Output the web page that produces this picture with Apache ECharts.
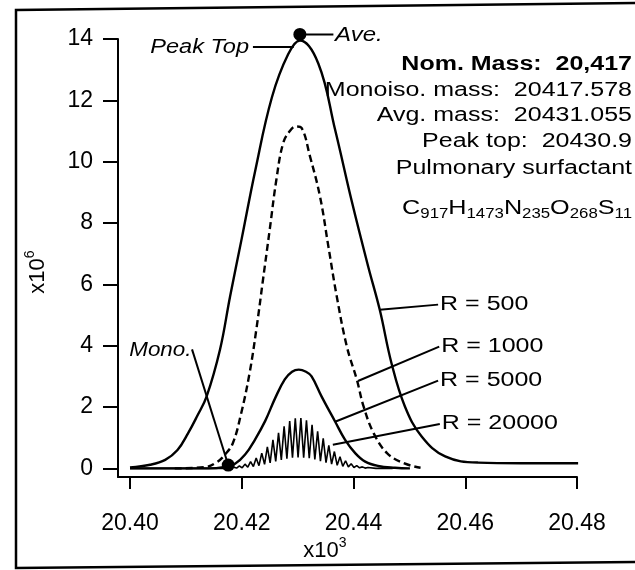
<!DOCTYPE html>
<html><head><meta charset="utf-8">
<script src="https://cdn.jsdelivr.net/npm/echarts@6/dist/echarts.min.js"></script>
<style>html,body{margin:0;padding:0;background:#fff}#c{width:635px;height:570px}</style>
</head><body><div id="c"></div>
<script>
// ---- tick labels ----
const xTicks = [20.40, 20.42, 20.44, 20.46, 20.48];
const yTicks = [0, 2, 4, 6, 8, 10, 12, 14];

// ---- R = 500 (solid) ----
const r500Mass = [20.4000, 20.4036, 20.4063, 20.4085, 20.4104, 20.4120, 20.4137, 20.4161, 20.4179, 20.4200, 20.4224, 20.4254, 20.4283, 20.4304, 20.4337, 20.4367, 20.4397, 20.4426, 20.4447, 20.4468, 20.4492, 20.4522, 20.4564, 20.4623, 20.4700, 20.4802];
const r500Int  = [0.03, 0.12, 0.28, 0.60, 1.15, 1.70, 2.34, 3.87, 5.60, 7.50, 9.70, 12.10, 13.50, 13.95, 13.20, 11.05, 8.70, 6.60, 5.17, 3.43, 2.02, 1.04, 0.39, 0.19, 0.17, 0.17];

// ---- R = 1000 (dashed) ----
const r1000Mass = [20.4080, 20.4134, 20.4155, 20.4170, 20.4184, 20.4199, 20.4214, 20.4226, 20.4238, 20.4250, 20.4262, 20.4274, 20.4286, 20.4297, 20.4307, 20.4322, 20.4340, 20.4355, 20.4370, 20.4388, 20.4406, 20.4418, 20.4436, 20.4460, 20.4490, 20.4520];
const r1000Int  = [0, 0.04, 0.20, 0.45, 0.82, 1.80, 3.11, 4.52, 6.15, 7.78, 9.42, 10.60, 11.00, 11.15, 11.10, 10.18, 8.87, 7.24, 5.61, 3.98, 2.89, 2.02, 1.15, 0.50, 0.17, 0.02];

// ---- R = 5000 ----
const r5000Mass = [20.4000, 20.4140, 20.4170, 20.4188, 20.4206, 20.4224, 20.4242, 20.4260, 20.4277, 20.4290, 20.4302, 20.4315, 20.4325, 20.4343, 20.4367, 20.4385, 20.4403, 20.4421, 20.4444, 20.4474, 20.4501];
const r5000Int  = [0, 0, 0.05, 0.15, 0.45, 0.95, 1.55, 2.30, 2.90, 3.15, 3.22, 3.15, 3.00, 2.34, 1.53, 0.93, 0.50, 0.22, 0.08, 0.02, 0];

// ---- R = 20000 (resolved isotope peaks and valleys) ----
const r20000Mass = [20.4000, 20.4170,
  20.41858, 20.41908, 20.41958, 20.42008, 20.42058, 20.42108, 20.42158, 20.42208,
  20.42258, 20.42308, 20.42358, 20.42408, 20.42458, 20.42508, 20.42558, 20.42608,
  20.42658, 20.42708, 20.42758, 20.42808, 20.42858, 20.42908, 20.42958, 20.43008,
  20.43058, 20.43108, 20.43158, 20.43208, 20.43258, 20.43308, 20.43358, 20.43408,
  20.43458, 20.43508, 20.43558, 20.43608, 20.43658, 20.43708, 20.43758, 20.43808,
  20.43858, 20.43908, 20.43958, 20.44008, 20.44058, 20.44108, 20.44158, 20.44208,
  20.44258, 20.4440, 20.4470];
const r20000Int = [0, 0,
  0.04, 0.01, 0.08, 0.02, 0.14, 0.04, 0.22, 0.06,
  0.34, 0.09, 0.50, 0.13, 0.70, 0.18, 0.93, 0.23,
  1.16, 0.28, 1.37, 0.32, 1.54, 0.35, 1.63, 0.36,
  1.64, 0.35, 1.57, 0.33, 1.42, 0.29, 1.21, 0.24,
  0.98, 0.19, 0.75, 0.14, 0.55, 0.10, 0.38, 0.07,
  0.25, 0.05, 0.15, 0.03, 0.09, 0.02, 0.05, 0.01,
  0.03, 0, 0];

// ---- marked points: Mono. and Peak Top / Ave. ----
const markMass = [20.41758, 20.4304];
const markInt  = [0.11, 14.15];

// ---- annotation texts ----
const rLabels = ['R = 500', 'R = 1000', 'R = 5000', 'R = 20000'];
const rLabelPos = [[20.4555, 5.34], [20.4557, 3.97], [20.4555, 2.86], [20.4558, 1.45]];
const rPointerFrom = [[20.4447, 5.17], [20.4408, 2.85], [20.4367, 1.52], [20.4363, 0.77]];
const infoLines = ['Nom. Mass:  20,417', 'Monoiso. mass:  20417.578', 'Avg. mass:  20431.055', 'Peak top:  20430.9', 'Pulmonary surfactant'];
const formulaParts = [['C', '917'], ['H', '1473'], ['N', '235'], ['O', '268'], ['S', '11']];

const FONT = '"Liberation Sans", Arial, Helvetica, sans-serif';
const zip = (a, b) => a.map((v, i) => [v, b[i]]);

const chart = echarts.init(document.getElementById('c'), null, {renderer: 'canvas'});
const lineBase = {type: 'line', showSymbol: false, symbol: 'none', silent: true};
chart.setOption({
  animation: false,
  backgroundColor: '#ffffff',
  grid: {left: 118, right: 58, top: 39, bottom: 93},
  xAxis: {
    type: 'value', min: 20.39785, max: 20.48,
    axisLine: {show: true, onZero: false, lineStyle: {color: '#000', width: 2}},
    axisTick: {show: true, customValues: xTicks, length: 12, lineStyle: {color: '#000', width: 2}},
    axisLabel: {customValues: xTicks, formatter: v => Number(v).toFixed(2), color: '#000', fontSize: 23, fontFamily: FONT, margin: 35},
    splitLine: {show: false}
  },
  yAxis: {
    type: 'value', min: -0.28, max: 14,
    axisLine: {show: true, onZero: false, lineStyle: {color: '#000', width: 2}},
    axisTick: {show: true, customValues: yTicks, length: 15, lineStyle: {color: '#000', width: 2}},
    axisLabel: {customValues: yTicks, color: '#000', fontSize: 23, fontFamily: FONT, margin: 25},
    splitLine: {show: false}
  },
  series: [
    Object.assign({}, lineBase, {name: 'R = 500', data: zip(r500Mass, r500Int), smooth: 0.4, lineStyle: {color: '#000', width: 2.4}}),
    Object.assign({}, lineBase, {name: 'R = 1000', data: zip(r1000Mass, r1000Int), smooth: 0.4, lineStyle: {color: '#000', width: 2.4, type: [7, 4]}}),
    Object.assign({}, lineBase, {name: 'R = 5000', data: zip(r5000Mass, r5000Int), smooth: 0.4, lineStyle: {color: '#000', width: 2.4}}),
    Object.assign({}, lineBase, {name: 'R = 20000', data: zip(r20000Mass, r20000Int), smooth: false, lineStyle: {color: '#000', width: 1.6}}),
    {type: 'scatter', data: zip(markMass, markInt), symbolSize: 13, clip: false, itemStyle: {color: '#000', opacity: 1}, z: 5, silent: true}
  ]
});

const P = p => chart.convertToPixel({gridIndex: 0}, p);
function seg(a, b, w) {
  return {type: 'line', z: 10, shape: {x1: a[0], y1: a[1], x2: b[0], y2: b[1]}, style: {stroke: '#000', lineWidth: w || 2}};
}
function txt(x, y, text, o) {
  o = o || {};
  return {
    type: 'text', z: 10, x: x, y: y, scaleX: o.sx || 1, rotation: o.rot || 0,
    style: {
      text: text, fill: '#000',
      fontSize: o.size || 20, fontFamily: FONT, fontWeight: o.weight || 'normal', fontStyle: o.style || 'normal',
      align: o.align || 'left', verticalAlign: 'middle', textAlign: o.align || 'left', textVerticalAlign: 'middle',
      rich: o.rich
    }
  };
}
const g = [];
// outer frame (scan border)
g.push({type: 'polyline', z: 10, shape: {points: [[635, 3], [16, 10], [16, 568], [635, 562]]}, style: {stroke: '#000', lineWidth: 2.5, fill: null}});
// R pointers and labels
rLabels.forEach((t, i) => {
  const a = P(rPointerFrom[i]);
  const b = P(rLabelPos[i]);
  g.push(seg(a, [b[0] - 2, b[1]]));
  g.push(txt(b[0], b[1], t, {sx: 1.25}));
});
// Mono.
{
  const tp = P([20.4110, 3.83]);
  const a = P([20.4111, 3.88]);
  const b = P([markMass[0], markInt[0]]);
  g.push(seg(a, b));
  g.push(txt(tp[0], tp[1], 'Mono.', {align: 'right', style: 'italic', sx: 1.12}));
}
// Peak Top
{
  const tp = P([20.4213, 13.72]);
  const a = P([20.4220, 13.74]);
  const b = P([20.4293, 13.74]);
  g.push(seg(a, b));
  g.push(txt(tp[0], tp[1], 'Peak Top', {align: 'right', style: 'italic', sx: 1.18}));
}
// Ave.
{
  const a = P([markMass[1], markInt[1]]);
  const b = P([20.4364, markInt[1]]);
  const tp = P([20.4367, 14.1]);
  g.push(seg(a, b));
  g.push(txt(tp[0], tp[1], 'Ave.', {style: 'italic', sx: 1.2}));
}
// info block
const infoY = [64, 90, 115, 141, 168];
infoLines.forEach((t, i) => {
  g.push(txt(632, infoY[i], t, {align: 'right', sx: 1.25, weight: i === 0 ? 'bold' : 'normal'}));
});
// formula with subscripts
g.push(txt(632, 208, formulaParts.map(p => '{b|' + p[0] + '}{s|' + p[1] + '}').join(''), {
  align: 'right', sx: 1.2,
  rich: {
    b: {fontSize: 21, fontFamily: FONT, lineHeight: 26, verticalAlign: 'middle', fill: '#000', color: '#000'},
    s: {fontSize: 14, fontFamily: FONT, lineHeight: 14, verticalAlign: 'bottom', fill: '#000', color: '#000'}
  }
}));
// axis multipliers
g.push(txt(325, 549, '{b|x10}{p|3}', {align: 'center', rich: {
  b: {fontSize: 22, fontFamily: FONT, lineHeight: 26, verticalAlign: 'bottom', fill: '#000', color: '#000'},
  p: {fontSize: 14, fontFamily: FONT, lineHeight: 14, verticalAlign: 'top', fill: '#000', color: '#000'}
}}));
g.push(txt(36, 272, '{b|x10}{p|6}', {align: 'center', rot: Math.PI / 2, rich: {
  b: {fontSize: 22, fontFamily: FONT, lineHeight: 26, verticalAlign: 'bottom', fill: '#000', color: '#000'},
  p: {fontSize: 14, fontFamily: FONT, lineHeight: 14, verticalAlign: 'top', fill: '#000', color: '#000'}
}}));
chart.setOption({graphic: {elements: g}});
</script>
</body></html>
